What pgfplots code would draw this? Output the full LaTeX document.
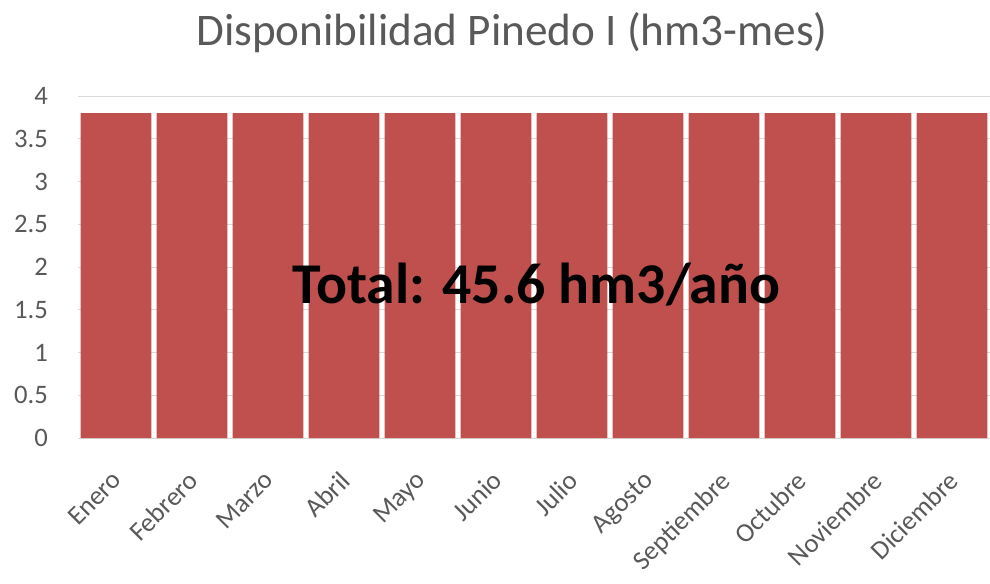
\documentclass[border=0pt]{standalone}
\usepackage{fontspec}
\setmainfont{Carlito}
\usepackage{pgfplots}
\pgfplotsset{compat=1.18}
\definecolor{barred}{HTML}{C0504D}
\definecolor{txtgray}{HTML}{595959}
\definecolor{gridgray}{HTML}{D9D9D9}
\begin{document}
\begin{tikzpicture}
\begin{axis}[
    at={(0,0)}, anchor=south west,
    scale only axis, width=684pt, height=256.5pt,
    xmin=-0.5, xmax=11.5, ymin=0, ymax=4,
    ytick={0,0.5,...,4},
    xtick=data,
    xticklabels={Enero,Febrero,Marzo,Abril,Mayo,Junio,Julio,Agosto,Septiembre,Octubre,Noviembre,Diciembre},
    major tick length=0pt,
    axis x line*=bottom, axis y line*=left,
    x axis line style={draw=gridgray, line width=0.75pt, -},
    y axis line style={draw=none},
    ymajorgrids, grid style={draw=gridgray, line width=0.75pt},
    /pgf/number format/assume math mode=true,
    tick label style={font=\fontsize{20}{24}\selectfont, text=txtgray},
    y tick label style={xshift=-19pt},
    x tick label style={xshift=-4pt, yshift=-18.8pt, rotate=45, anchor=north east},
    clip=false,
]
\addplot[ybar, bar width=0.934, fill=barred, draw=none] coordinates {
    (0,3.8) (1,3.8) (2,3.8) (3,3.8) (4,3.8) (5,3.8)
    (6,3.8) (7,3.8) (8,3.8) (9,3.8) (10,3.8) (11,3.8)
};
\node[anchor=base, font=\bfseries\fontsize{43.3}{50}\selectfont] at (axis cs:5.53,1.579) {Total: 45.6 hm3/año};
\node[anchor=base, text=txtgray, font=\fontsize{33.9}{40}\selectfont] at (rel axis cs:0.476,1.149) {Disponibilidad Pinedo I (hm3-mes)};
\end{axis}
\pgfresetboundingbox
\useasboundingbox (-58.5pt,-108.75pt) rectangle (684pt,328.5pt);
\end{tikzpicture}
\end{document}
